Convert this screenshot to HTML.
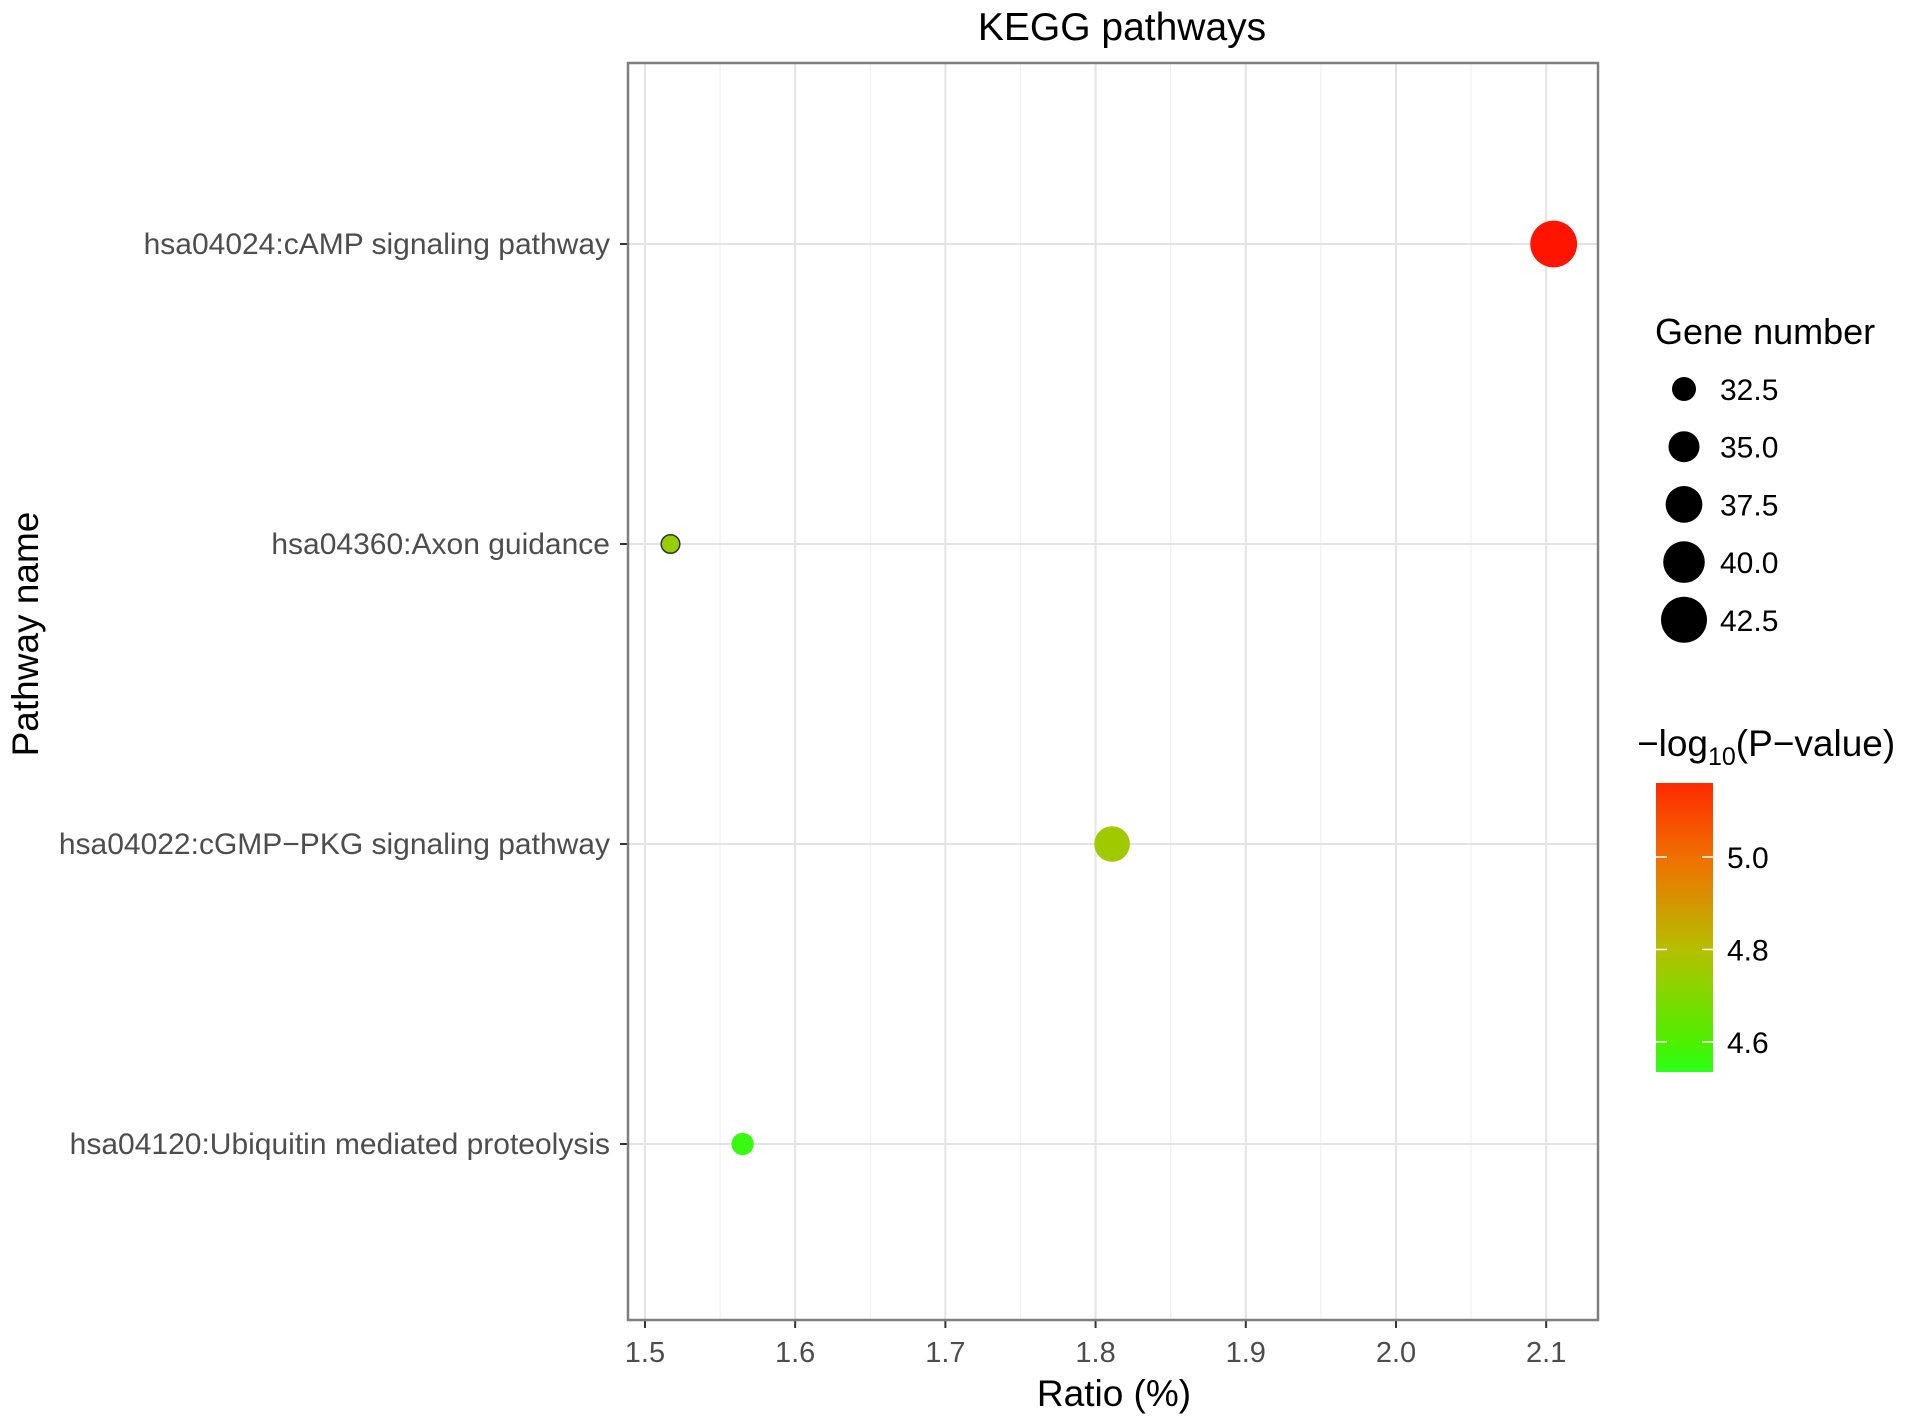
<!DOCTYPE html>
<html><head><meta charset="utf-8">
<style>
html,body{margin:0;padding:0;background:#fff;}
svg{display:block;font-family:"Liberation Sans",sans-serif;}
</style></head>
<body>
<svg id="chart" width="1913" height="1426" viewBox="0 0 1913 1426">
<defs>
<linearGradient id="cbar" x1="0" y1="1" x2="0" y2="0">
<stop offset="0" stop-color="#2bff1a"/>
<stop offset="0.1" stop-color="#4cf000"/>
<stop offset="0.42" stop-color="#b4c000"/>
<stop offset="0.74" stop-color="#f07000"/>
<stop offset="1" stop-color="#ff2a00"/>
</linearGradient>
</defs>
<text x="1122" y="40" text-anchor="middle" font-size="39" fill="#000">KEGG pathways</text>
<g id="panel"></g>
<text x="1114" y="1406" text-anchor="middle" font-size="37" fill="#000">Ratio (%)</text>
<text transform="translate(38,634) rotate(-90)" text-anchor="middle" font-size="37" fill="#000">Pathway name</text>
<text x="1655" y="344" font-size="36" fill="#000">Gene number</text>
<g id="sizeLegend"></g>
<text x="1637" y="756" font-size="37" fill="#000">−log<tspan font-size="25" dy="9">10</tspan><tspan dy="-9">(P−value)</tspan></text>
<rect x="1656" y="783" width="57" height="289" fill="url(#cbar)"/>
<g id="colorLegend"></g>
</svg>
<script>
const categories = ["hsa04024:cAMP signaling pathway","hsa04360:Axon guidance","hsa04022:cGMP\u2212PKG signaling pathway","hsa04120:Ubiquitin mediated proteolysis"];
const ratios = [2.105, 1.517, 1.811, 1.565];
const geneCounts = [43, 31, 37, 32];
const logP = [5.16, 4.74, 4.76, 4.56];
const xTicks = [1.5,1.6,1.7,1.8,1.9,2.0,2.1];
const sizeLegendValues = [32.5,35.0,37.5,40.0,42.5];
const colorTicks = [4.6,4.8,5.0];

const NS="http://www.w3.org/2000/svg";
const L=628,R=1598,T=63,B=1320;
const xMin=1.4887,xMax=2.1345;
const X=v=>L+(v-xMin)/(xMax-xMin)*(R-L);
const rowY=[244,544,844,1144];
const Y=i=>rowY[0]+i*(rowY[1]-rowY[0]);
const rad=n=>Math.sqrt(Math.max(20,144+38.5*(n-32.5)));
const cMin=4.535,cMax=5.16;
const CB=v=>1072-(v-cMin)/(cMax-cMin)*289;
const stops=[[0,[43,255,26]],[0.1,[76,240,0]],[0.42,[180,192,0]],[0.74,[240,112,0]],[1,[255,20,0]]];
function col(v){let f=(v-cMin)/(cMax-cMin);f=Math.max(0,Math.min(1,f));
 for(let i=1;i<stops.length;i++){if(f<=stops[i][0]){const a=stops[i-1],b=stops[i];const t=(f-a[0])/(b[0]-a[0]);
 return 'rgb('+a[1].map((c,k)=>Math.round(c+(b[1][k]-c)*t)).join(',')+')';}}return 'rgb(255,20,0)';}
function mk(tag,attrs,parent){const e=document.createElementNS(NS,tag);for(const k in attrs)e.setAttribute(k,attrs[k]);parent.appendChild(e);return e;}

const panel=document.getElementById('panel');
mk('rect',{x:L,y:T,width:R-L,height:B-T,fill:'#fff'},panel);
for(let i=0;i<xTicks.length;i++){const v=xTicks[i]+0.05;if(X(v)<R){const l=mk('line',{x1:X(v),x2:X(v),y1:T,y2:B,stroke:'#f0f0f0','stroke-width':1.2},panel);

}}
{const v=xTicks[0]-0.05;if(X(v)>L){mk('line',{x1:X(v),x2:X(v),y1:T,y2:B,stroke:'#f0f0f0','stroke-width':1.2},panel);}}
xTicks.forEach(v=>{const l=mk('line',{x1:X(v),x2:X(v),y1:T,y2:B,stroke:'#e3e3e3','stroke-width':2},panel);


const tk=mk('line',{x1:X(v),x2:X(v),y1:B,y2:B+8,stroke:'#333','stroke-width':2},panel);


const t=mk('text',{x:X(v),y:1362,'text-anchor':'middle','font-size':29,fill:'#4d4d4d'},panel);t.textContent=v.toFixed(1);

});
categories.forEach((c,i)=>{const y=Y(i);
const l=mk('line',{x1:L,x2:R,y1:y,y2:y,stroke:'#e3e3e3','stroke-width':2},panel);


const tk=mk('line',{x1:L-8,x2:L,y1:y,y2:y,stroke:'#333','stroke-width':2},panel);


const t=mk('text',{x:610,y:y+10,'text-anchor':'end','font-size':30,fill:'#4d4d4d'},panel);t.textContent=c;

});
const border=mk('rect',{x:L,y:T,width:R-L,height:B-T,fill:'none',stroke:'#7f7f7f','stroke-width':2.5},panel);


categories.forEach((c,i)=>{const p=mk('circle',{cx:X(ratios[i]),cy:Y(i),r:rad(geneCounts[i]),fill:col(logP[i]),stroke:i===1?'#333':'none','stroke-width':1.5},panel);

});

const sl=document.getElementById('sizeLegend');
const ly0=389,ldy=57.7;
sizeLegendValues.forEach((v,i)=>{const y=ly0+i*ldy;
const cc=mk('circle',{cx:1684,cy:y,r:rad(v),fill:'#000'},sl);


const t=mk('text',{x:1720,y:y+11,'font-size':30,fill:'#000'},sl);t.textContent=v.toFixed(1);

});

const cl=document.getElementById('colorLegend');
colorTicks.forEach(v=>{const y=CB(v);
mk('line',{x1:1656,x2:1667,y1:y,y2:y,stroke:'#fff','stroke-width':1.5},cl);
mk('line',{x1:1702,x2:1713,y1:y,y2:y,stroke:'#fff','stroke-width':1.5},cl);
const t=mk('text',{x:1727,y:y+11,'font-size':30,fill:'#000'},cl);t.textContent=v.toFixed(1);

});
</script>
</body></html>
